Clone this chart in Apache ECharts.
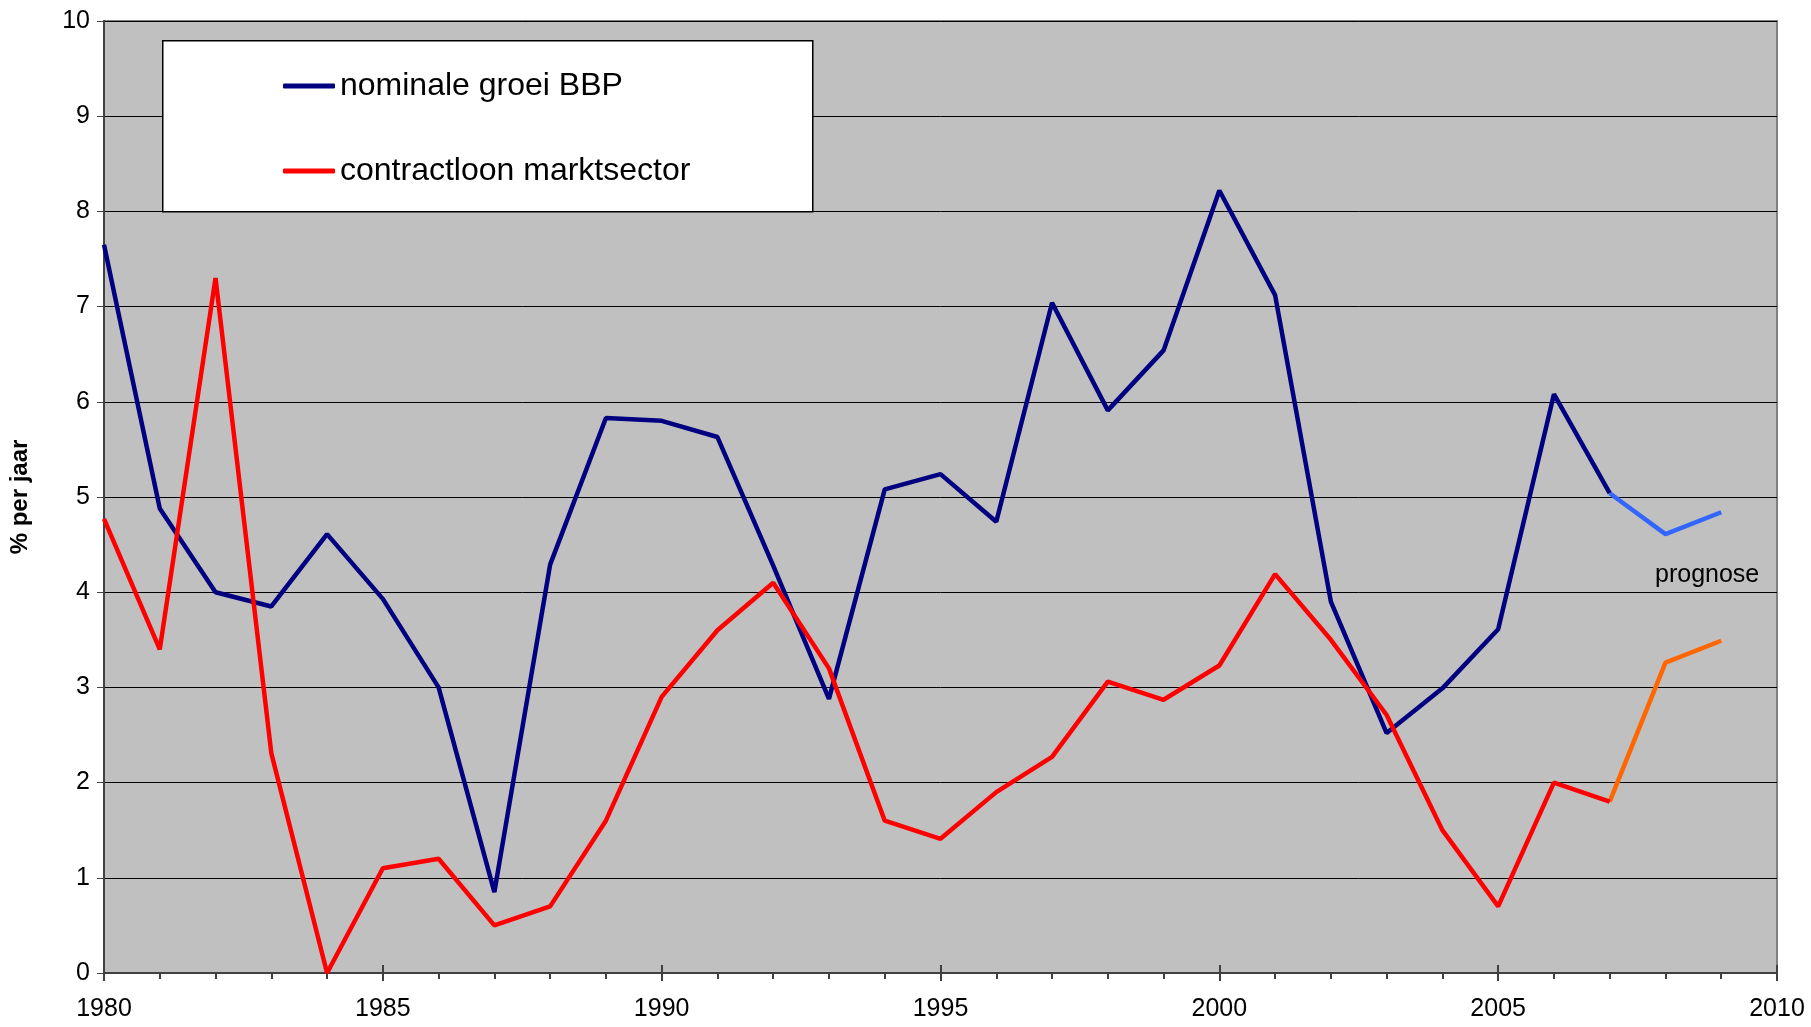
<!DOCTYPE html>
<html>
<head>
<meta charset="utf-8">
<script src="https://cdn.jsdelivr.net/npm/echarts@6/dist/echarts.min.js"></script>
<style>
html,body{margin:0;padding:0;background:#fff;}
#chart{width:1811px;height:1027px;}
</style>
</head>
<body>
<div id="chart"></div>
<script>
const years = [1980,1981,1982,1983,1984,1985,1986,1987,1988,1989,1990,1991,1992,1993,1994,1995,1996,1997,1998,1999,2000,2001,2002,2003,2004,2005,2006,2007];
const bbp = [7.65,4.88,4.0,3.85,4.61,3.93,3.0,0.85,4.29,5.83,5.80,5.63,4.28,2.88,5.08,5.24,4.74,7.04,5.91,6.54,8.22,7.12,3.90,2.52,2.99,3.61,6.08,5.04];
const loon = [4.77,3.40,7.30,2.31,0.0,1.10,1.20,0.50,0.70,1.60,2.90,3.60,4.10,3.20,1.60,1.41,1.90,2.27,3.06,2.87,3.23,4.19,3.50,2.71,1.50,0.70,2.00,1.80];
const progYears = [2007,2008,2009];
const bbpProg = [5.04,4.61,4.84];
const loonProg = [1.80,3.26,3.49];
const seriesNames = ['nominale groei BBP','contractloon marktsector'];
const yTitle = '% per jaar';
const progLabel = 'prognose';

const pair = (xs, ys) => xs.map((x,i)=>[x, ys[i]]);
const FONT = "'Liberation Sans', Arial, sans-serif";

const chart = echarts.init(document.getElementById('chart'));
chart.setOption({
  animation:false,
  backgroundColor:'#ffffff',
  textStyle:{fontFamily:FONT},
  grid:{left:101,right:34,top:21,bottom:54,show:true,backgroundColor:'#C0C0C0',borderColor:'#808080',borderWidth:2},
  xAxis:[{
    type:'value',min:1980,max:2010,interval:5,
    axisLine:{show:true,onZero:false,lineStyle:{color:'#404040',width:2}},
    axisTick:{show:true,length:8,lineStyle:{color:'#404040',width:2}},
    minorTick:{show:true,splitNumber:5,length:6,lineStyle:{color:'#404040',width:2}},
    splitLine:{show:false},
    axisLabel:{color:'#000',fontSize:25,fontFamily:FONT,margin:24,formatter:v=>String(v)}
  },{
    type:'value',min:1980,max:2010,interval:5,position:'bottom',
    axisLine:{show:false},
    axisTick:{show:true,inside:true,length:8,lineStyle:{color:'#404040',width:2}},
    splitLine:{show:false},axisLabel:{show:false}
  }],
  yAxis:{
    type:'value',min:0,max:10,interval:1,
    name:yTitle,nameLocation:'middle',nameGap:72,nameRotate:90,
    nameTextStyle:{color:'#000',fontSize:24,fontWeight:'bold',fontFamily:FONT},
    axisLine:{show:true,lineStyle:{color:'#404040',width:2}},
    axisTick:{show:true,length:7,lineStyle:{color:'#404040',width:1}},
    splitLine:{show:true,lineStyle:{color:'#000',width:1}},
    axisLabel:{color:'#000',fontSize:25,fontFamily:FONT,margin:14}
  },
  graphic:[
    {type:'rect',left:162,top:40,z:50,shape:{width:650,height:171},style:{fill:'#fff',stroke:'#000',lineWidth:1.5}},
    {type:'text',left:1655,top:563,z:50,style:{text:progLabel,fill:'#000',font:'25px '+FONT}}
  ],
  legend:{
    data:seriesNames,orient:'vertical',left:283,top:70,padding:0,itemGap:53,z:60,
    itemWidth:52,itemHeight:5,icon:'roundRect',
    textStyle:{color:'#000',fontSize:32,lineHeight:32,fontFamily:FONT}
  },
  series:[
    {name:seriesNames[0],type:'line',data:pair(years,bbp),symbol:'none',lineStyle:{color:'#000080',width:4.5},itemStyle:{color:'#000080'},z:3},
    {name:seriesNames[1],type:'line',data:pair(years,loon),symbol:'none',lineStyle:{color:'#FF0000',width:4.5},itemStyle:{color:'#FF0000'},z:3},
    {name:'bbp prognose',type:'line',data:pair(progYears,bbpProg),symbol:'none',lineStyle:{color:'#3366FF',width:4.5},z:2},
    {name:'loon prognose',type:'line',data:pair(progYears,loonProg),symbol:'none',lineStyle:{color:'#FF6600',width:4.5},z:2}
  ]
});
</script>
</body>
</html>
